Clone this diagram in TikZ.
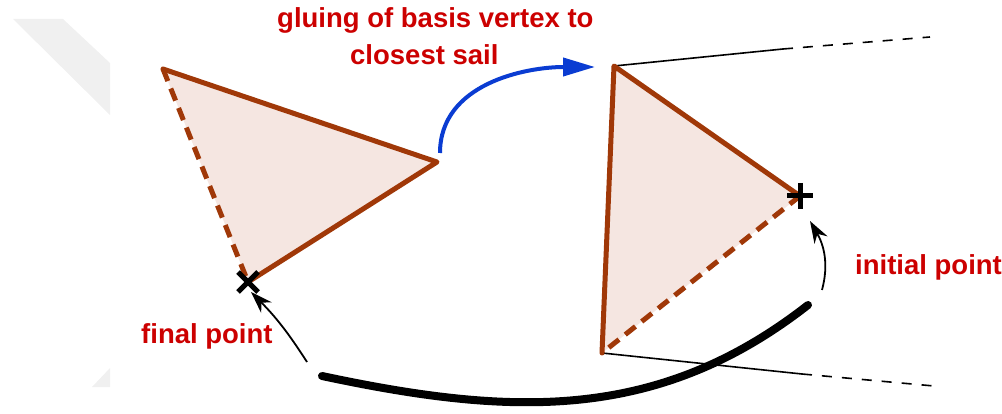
\documentclass[tikz,border=0pt]{standalone}
\usepackage{fontspec}
\setmainfont{Liberation Sans}
\usetikzlibrary{arrows.meta,calc}
\definecolor{edgebrown}{RGB}{160,56,8}
\definecolor{fillpink}{RGB}{245,230,225}
\definecolor{glueblue}{RGB}{10,60,210}
\definecolor{labelred}{RGB}{204,0,0}
\definecolor{ghost}{RGB}{240,240,240}
\tikzset{
  solidedge/.style={draw=edgebrown,line width=5pt,line cap=round,line join=round},
  dashedge/.style={draw=edgebrown,line width=5pt,dash pattern=on 13pt off 8pt},
  sailline/.style={draw=black,line width=1.6pt},
  saildash/.style={draw=black,line width=1.6pt,dash pattern=on 10pt off 10pt},
  lbl/.style={text=labelred,font=\fontsize{27.5}{37}\selectfont\bfseries,inner sep=0pt},
  thinarrow/.style={draw=black,line width=1.8pt,-{Stealth[length=22pt,width=15pt]}},
  crossmark/.style={draw=black,line width=5pt},
}
\begin{document}
\begin{tikzpicture}[x=1pt,y=-1pt]
\useasboundingbox (0,0) rectangle (1002,414);
% faint background pieces
\fill[ghost] (13,19) -- (63,19) -- (110,63) -- (110,115) -- cycle;
\fill[ghost] (92,387) -- (110,368) -- (110,387) -- cycle;
% vertices
\coordinate (A) at (163,69);
\coordinate (B) at (437,162);
\coordinate (C) at (248,282);
\coordinate (D) at (614,66);
\coordinate (E) at (800,196);
\coordinate (F) at (602,353);
\coordinate (Dt) at (783,49);
\coordinate (De) at (930,37);
\coordinate (Ft) at (802,374);
\coordinate (Fe) at (934,386);
% sail lines
\draw[sailline] (D) -- (Dt);
\draw[saildash] (Dt) -- (De);
\draw[sailline] (F) -- (Ft);
\draw[saildash] (Ft) -- (Fe);
% triangles
\fill[fillpink] (A) -- (B) -- (C) -- cycle;
\fill[fillpink] (D) -- (E) -- (F) -- cycle;
\draw[dashedge] (A) -- (C);
\draw[solidedge] (C) -- (B) -- (A);
\draw[dashedge] (E) -- (F);
\draw[solidedge] (E) -- (D) -- (F);
% marks
\draw[crossmark] ($(C)+(-10,-10)$) -- ($(C)+(10,10)$);
\draw[crossmark] ($(C)+(-10,10)$) -- ($(C)+(10,-10)$);
\draw[crossmark] ($(E)+(-13,0)$) -- ($(E)+(13,0)$);
\draw[crossmark] ($(E)+(0,-13)$) -- ($(E)+(0,13)$);
% blue gluing arrow
\coordinate (g1) at (440,153);
\coordinate (g2) at (595,67);
\draw[draw=glueblue,line width=4pt,-{Triangle[length=32pt,width=18pt]}] (g1) to[out=90,in=180] (g2);
% big loop
\coordinate (L1) at (322,376);
\coordinate (L2) at (808,305);
\draw[line width=8pt,line cap=round] (L1) to[out=-12,in=-142] (L2);
\coordinate (r1) at (822,290);
\coordinate (r2) at (810,221);
\draw[thinarrow] (r1) to[out=75,in=-60] (r2);
\coordinate (l1) at (307,362);
\coordinate (l2) at (251,292);
\draw[thinarrow] (l1) to[bend right=6] (l2);
% labels
\node[lbl,anchor=base west] (t1) at (277,28) {gluing of basis vertex to};
\node[lbl,anchor=base west] (t2) at (350,65) {closest sail};
\node[lbl,anchor=base west] (ti) at (855,275) {initial point};
\node[lbl,anchor=base west] (tf) at (141,343) {final point};
\end{tikzpicture}
\end{document}
